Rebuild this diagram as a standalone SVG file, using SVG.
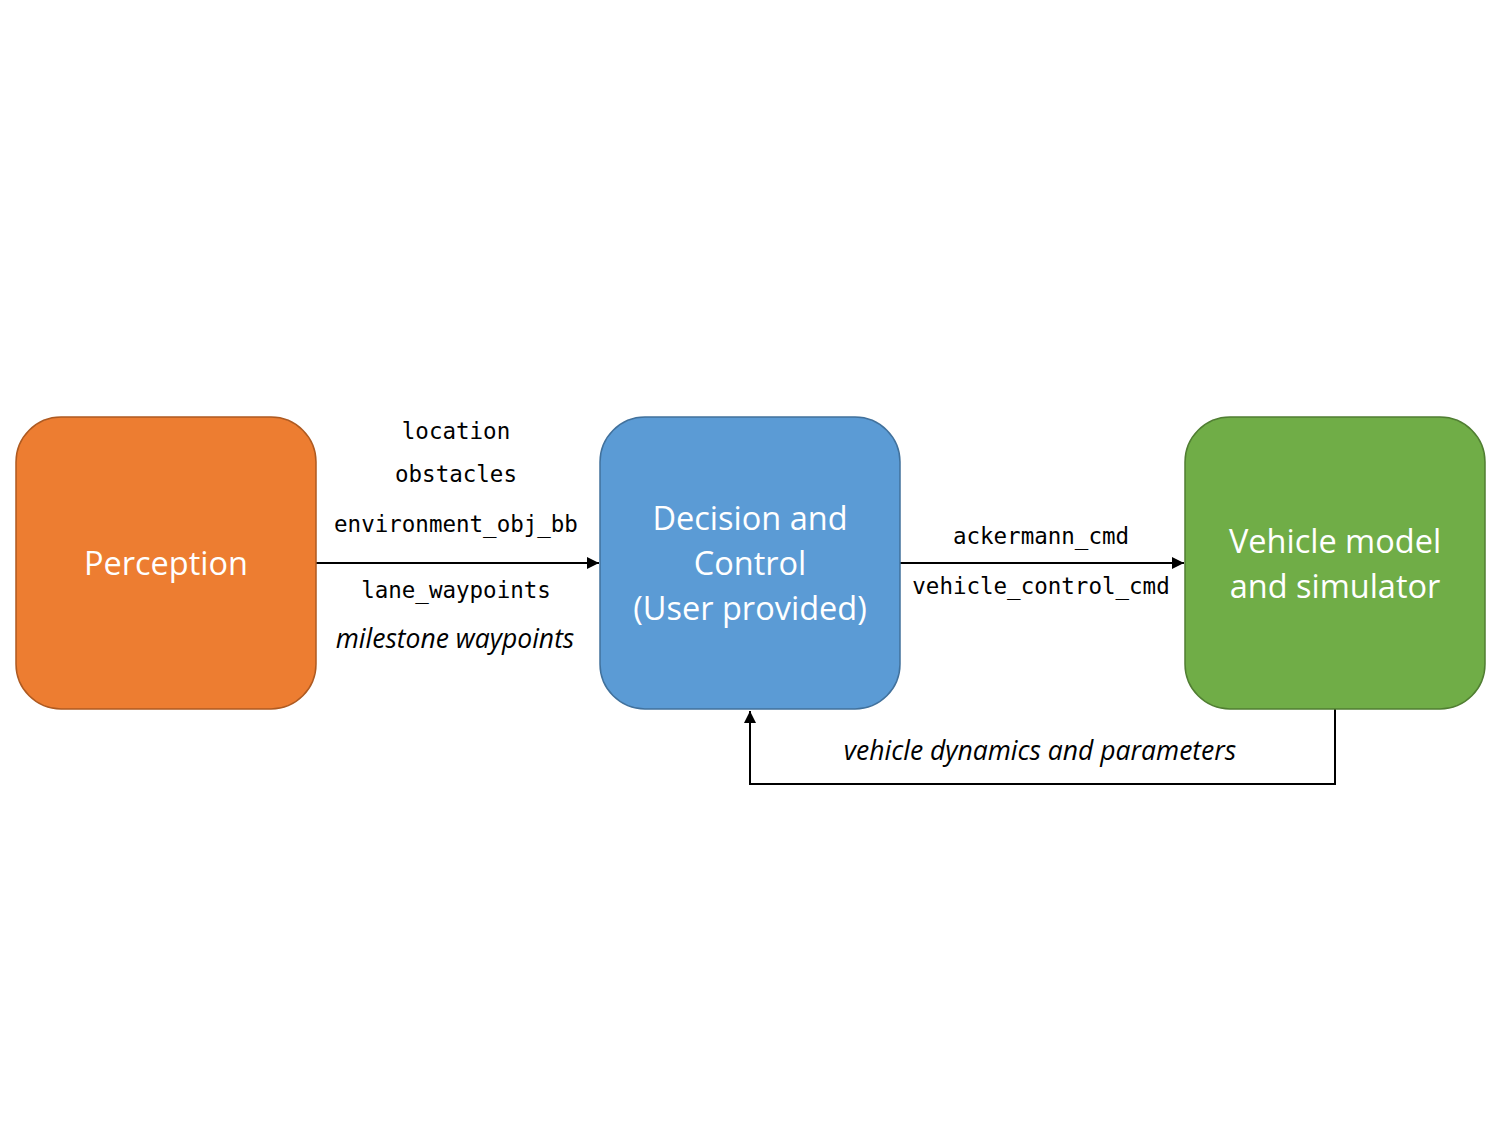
<svg xmlns="http://www.w3.org/2000/svg" width="1500" height="1125" viewBox="0 0 1500 1125">
<style>
.box{stroke-width:1.5}
.lbl{font-family:"Open Sans","Liberation Sans",sans-serif;font-size:32.5px;fill:#fff;text-anchor:middle}
.mono{font-family:"DejaVu Sans Mono","Liberation Mono",monospace;font-size:22.5px;fill:#000;text-anchor:middle}
.it{font-family:"Open Sans","Liberation Sans",sans-serif;font-size:26.5px;font-style:italic;fill:#000;text-anchor:middle}
.conn{stroke:#000;stroke-width:2;fill:none}
</style>
<defs>
<marker id="arr" viewBox="0 0 10 10" refX="10" refY="5" markerWidth="6" markerHeight="6" orient="auto" markerUnits="strokeWidth">
<path d="M0,0 L10,5 L0,10 z" fill="#000"/>
</marker>
</defs>
<rect width="1500" height="1125" fill="#fff"/>
<g id="connectors">
<line class="conn" x1="316" y1="563" x2="599" y2="563" marker-end="url(#arr)"/>
<line class="conn" x1="900" y1="563" x2="1184" y2="563" marker-end="url(#arr)"/>
<polyline class="conn" points="1335,708 1335,784 750,784 750,711" marker-end="url(#arr)"/>
<text class="mono" x="456" y="439">location</text>
<text class="mono" x="456" y="482">obstacles</text>
<text class="mono" x="456" y="532">environment_obj_bb</text>
<text class="mono" x="456" y="598">lane_waypoints</text>
<text class="it" x="455" y="648">milestone waypoints</text>
<text class="mono" x="1041" y="544">ackermann_cmd</text>
<text class="mono" x="1041" y="594">vehicle_control_cmd</text>
<text class="it" x="1040" y="760">vehicle dynamics and parameters</text>
</g>
<g id="perception">
<rect class="box" x="16" y="417" width="300" height="292" rx="45" fill="#ED7D31" stroke="#AE5A21"/>
<text class="lbl" x="166" y="575">Perception</text>
</g>
<g id="decision">
<rect class="box" x="600" y="417" width="300" height="292" rx="45" fill="#5B9BD5" stroke="#41719C"/>
<text class="lbl" x="750" y="530">Decision and</text>
<text class="lbl" x="750" y="575">Control</text>
<text class="lbl" x="750" y="620">(User provided)</text>
</g>
<g id="vehicle">
<rect class="box" x="1185" y="417" width="300" height="292" rx="45" fill="#70AD47" stroke="#507E32"/>
<text class="lbl" x="1335" y="553">Vehicle model</text>
<text class="lbl" x="1335" y="598">and simulator</text>
</g>
</svg>
